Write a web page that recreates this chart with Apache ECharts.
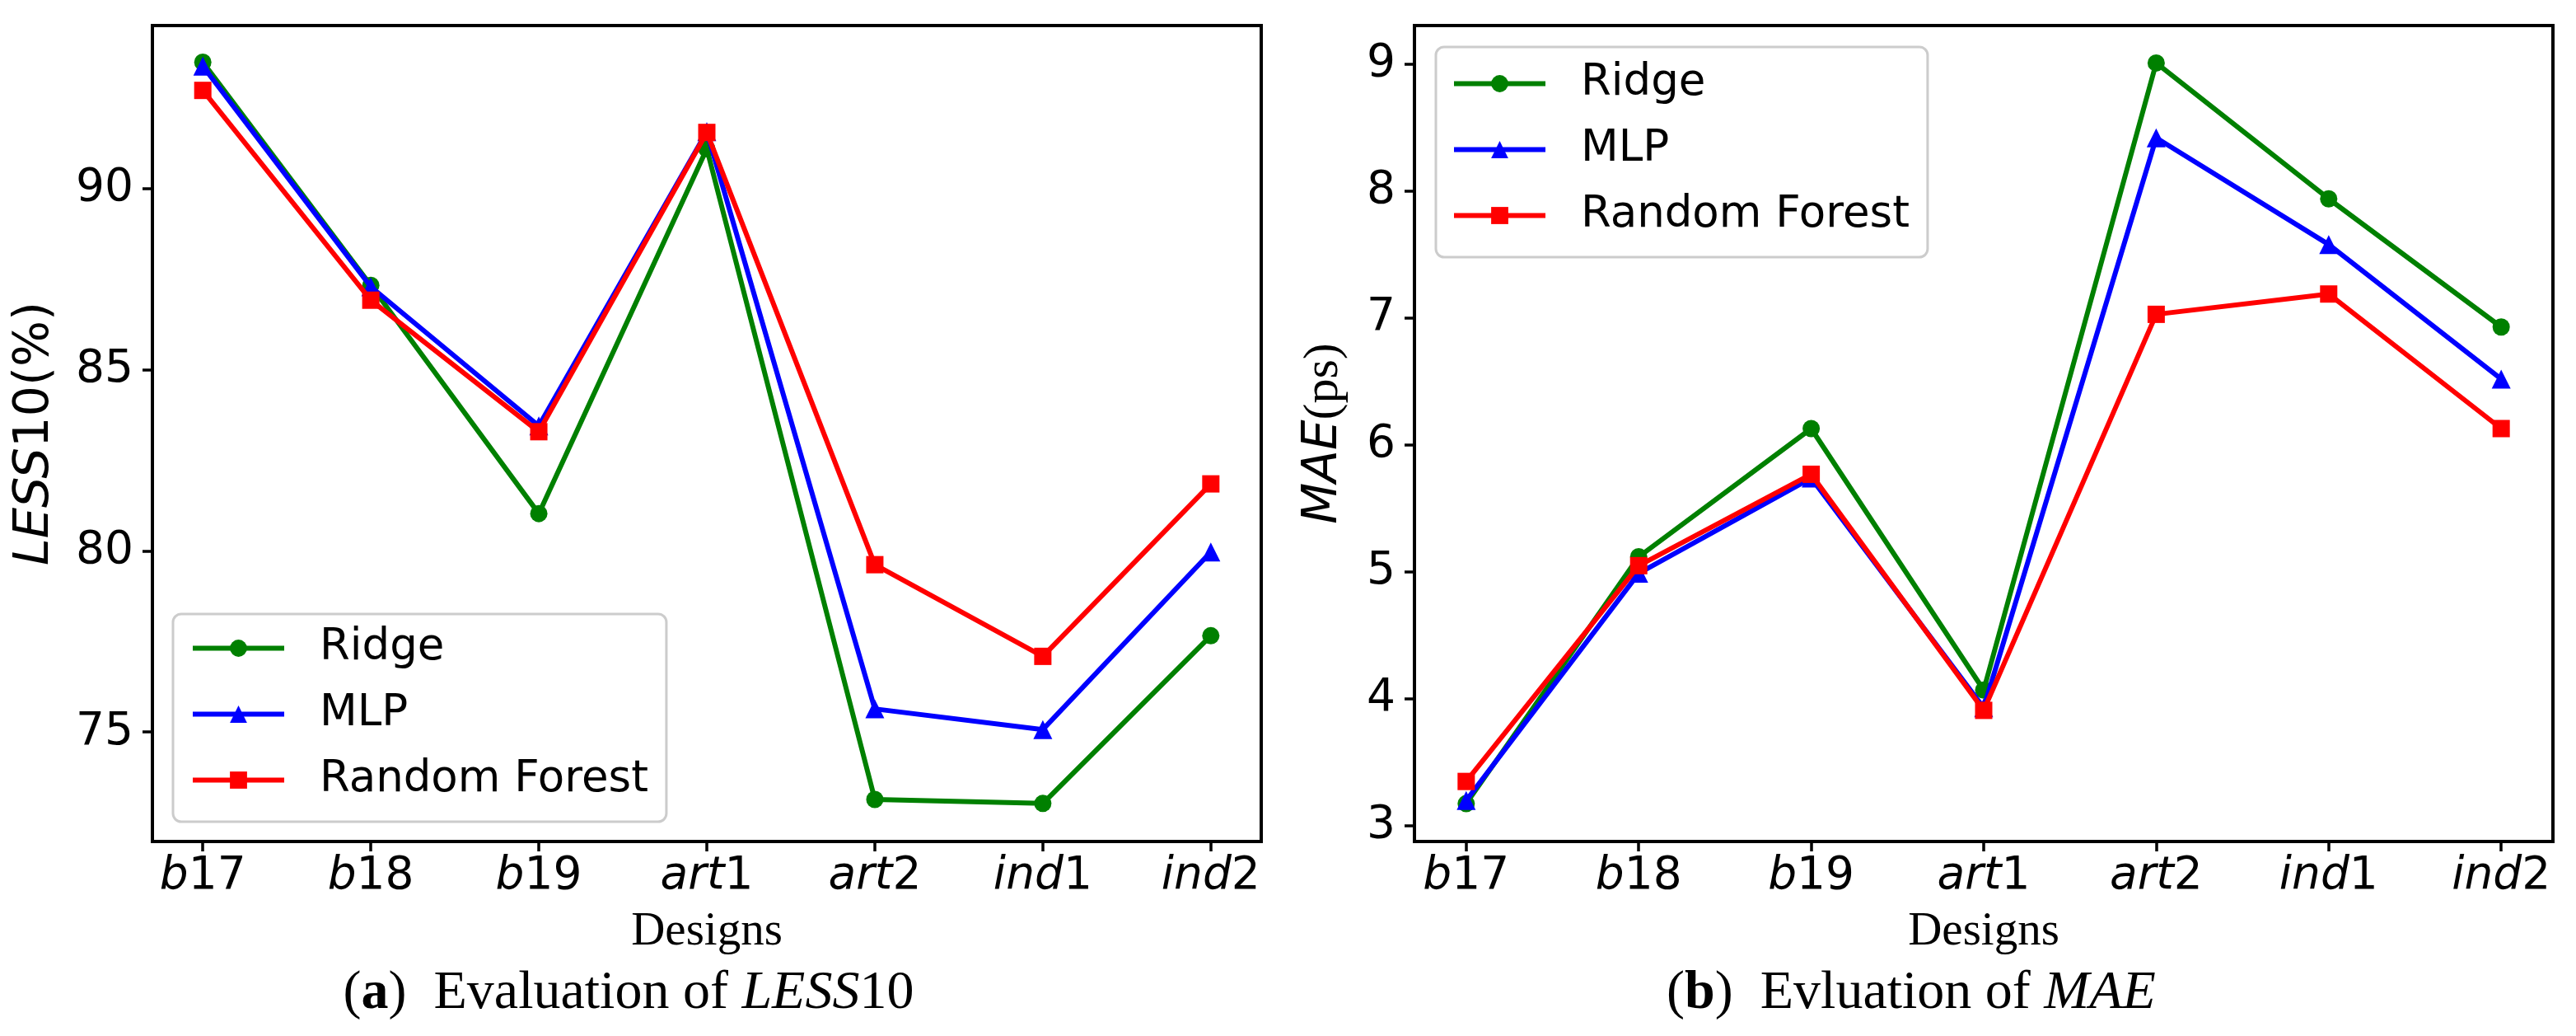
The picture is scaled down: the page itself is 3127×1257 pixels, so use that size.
<!DOCTYPE html>
<html><head><meta charset="utf-8">
<script src="https://cdn.jsdelivr.net/npm/echarts@6/dist/echarts.min.js"></script>
<style>html,body{margin:0;padding:0;background:#fff}#c{width:3127px;height:1257px}</style>
</head><body><div id="c"></div>
<script>
// ---- data ----
const categories = ['b17', 'b18', 'b19', 'art1', 'art2', 'ind1', 'ind2'];
const seriesNames = ['Ridge', 'MLP', 'Random Forest'];
const less10Ridge = [93.49, 87.33, 81.03, 91.10, 73.14, 73.03, 77.66];
const less10MLP   = [93.38, 87.29, 83.45, 91.57, 75.64, 75.07, 79.97];
const less10RF    = [92.71, 86.92, 83.29, 91.55, 79.62, 77.09, 81.85];
const maeRidge = [3.175, 5.12, 6.13, 4.07, 9.01, 7.94, 6.93];
const maeMLP   = [3.20, 4.99, 5.74, 3.93, 8.42, 7.58, 6.52];
const maeRF    = [3.35, 5.05, 5.77, 3.91, 7.03, 7.19, 6.13];
const less10Ticks = [75, 80, 85, 90];
const maeTicks = [3, 4, 5, 6, 7, 8, 9];

// ---- styling ----
const SANS = 'DejaVu Sans';
const SERIF = 'Liberation Serif';
const BLACK = '#000';
const colors = ['#008000', '#0000ff', '#ff0000'];
const symbols = ['circle', 'triangle', 'rect'];
const symSizes = [21, 23, 21];
const LINE_W = 6;

const chart = echarts.init(document.getElementById('c'), null, {renderer: 'canvas'});
const catIdx = categories.map((_, i) => i);

function xLabel(v) {
  const i = Math.round(v);
  const m = categories[i].match(/^([a-z]+)(\d+)$/);
  return '{i|' + m[1] + '}{n|' + m[2] + '}';
}
const tickRich = {
  i: {fontFamily: SANS, fontStyle: 'italic', fontSize: 55, color: BLACK},
  n: {fontFamily: SANS, fontSize: 55, color: BLACK}
};

function xAxisCfg(gi) {
  return {
    type: 'value', gridIndex: gi, min: -0.3, max: 6.3,
    axisLine: {show: true, onZero: false, lineStyle: {color: BLACK, width: 4}},
    axisTick: {show: true, customValues: catIdx, length: 12, lineStyle: {color: BLACK, width: 3.5}},
    axisLabel: {customValues: catIdx, formatter: xLabel, margin: 15, rich: tickRich},
    splitLine: {show: false},
    name: 'Designs', nameLocation: 'middle', nameGap: 82,
    nameTextStyle: {fontFamily: SERIF, fontSize: 57, color: BLACK}
  };
}
function yAxisCfg(gi, min, max, ticks, name, nameGap, nameRich) {
  return {
    type: 'value', gridIndex: gi, min: min, max: max,
    axisLine: {show: true, onZero: false, lineStyle: {color: BLACK, width: 4}},
    axisTick: {show: true, customValues: ticks, length: 12, lineStyle: {color: BLACK, width: 3.5}},
    axisLabel: {customValues: ticks, margin: 23, fontFamily: SANS, fontSize: 55, color: BLACK},
    splitLine: {show: false},
    name: name, nameLocation: 'middle', nameRotate: 90, nameGap: nameGap,
    nameTextStyle: {fontFamily: SANS, fontSize: 59, color: BLACK, rich: nameRich}
  };
}

function mkSeries(gi, dataArr) {
  return dataArr.map((vals, k) => ({
    type: 'line', name: seriesNames[k], xAxisIndex: gi, yAxisIndex: gi,
    data: vals.map((v, i) => [catIdx[i], v]),
    symbol: symbols[k], symbolSize: symSizes[k], showAllSymbol: true,
    color: colors[k],
    lineStyle: {width: LINE_W, color: colors[k]},
    itemStyle: {color: colors[k]},
    emphasis: {disabled: true}, silent: true, z: 2 + k
  }));
}

function legendCfg(left, top, padding) {
  return {
    orient: 'vertical', left: left, top: top,
    data: seriesNames, selectedMode: false,
    itemWidth: 111, itemHeight: 26, itemGap: 27,
    padding: padding,
    lineStyle: {width: LINE_W},
    backgroundColor: 'rgba(255,255,255,0.8)', borderColor: '#cccccc', borderWidth: 3, borderRadius: 10,
    textStyle: {fontFamily: SANS, fontSize: 53, color: BLACK, lineHeight: 52, padding: [0, 0, 0, 38]}
  };
}

const option = {
  animation: false,
  backgroundColor: '#fff',
  grid: [
    {left: 185, top: 31, width: 1346, height: 990, show: true, borderColor: BLACK, borderWidth: 4, backgroundColor: 'transparent'},
    {left: 1717, top: 31, width: 1382, height: 990, show: true, borderColor: BLACK, borderWidth: 4, backgroundColor: 'transparent'}
  ],
  xAxis: [xAxisCfg(0), xAxisCfg(1)],
  yAxis: [
    yAxisCfg(0, 71.98, 94.5, less10Ticks, '{i|LESS}{n|10(%)}', 113, {
      i: {fontFamily: SANS, fontStyle: 'italic', fontSize: 59, color: BLACK},
      n: {fontFamily: SANS, fontSize: 59, color: BLACK}
    }),
    yAxisCfg(1, 2.877, 9.305, maeTicks, '{i|MAE}{s|(ps)}', 80, {
      i: {fontFamily: SANS, fontStyle: 'italic', fontSize: 58, color: BLACK},
      s: {fontFamily: SERIF, fontSize: 60, color: BLACK}
    })
  ],
  legend: [
    legendCfg(210, 745, [15, 22, 24, 21]),
    legendCfg(1743, 57, [18, 22, 24, 19])
  ],
  series: [].concat(
    mkSeries(0, [less10Ridge, less10MLP, less10RF]),
    mkSeries(1, [maeRidge, maeMLP, maeRF])
  ),
  graphic: [
    {type: 'text', x: 763, y: 1206, silent: true, style: {
      text: '{n|(}{b|a}{n|)  Evaluation of }{i|LESS}{n|10}',
      align: 'center', verticalAlign: 'middle',
      rich: {
        n: {fontFamily: SERIF, fontSize: 66, color: BLACK},
        b: {fontFamily: SERIF, fontSize: 66, fontWeight: 'bold', color: BLACK},
        i: {fontFamily: SERIF, fontSize: 66, fontStyle: 'italic', color: BLACK}
      }
    }},
    {type: 'text', x: 2320, y: 1206, silent: true, style: {
      text: '{n|(}{b|b}{n|)  Evluation of }{i|MAE}',
      align: 'center', verticalAlign: 'middle',
      rich: {
        n: {fontFamily: SERIF, fontSize: 66, color: BLACK},
        b: {fontFamily: SERIF, fontSize: 66, fontWeight: 'bold', color: BLACK},
        i: {fontFamily: SERIF, fontSize: 66, fontStyle: 'italic', color: BLACK}
      }
    }}
  ]
};
chart.setOption(option);
</script>
</body></html>
